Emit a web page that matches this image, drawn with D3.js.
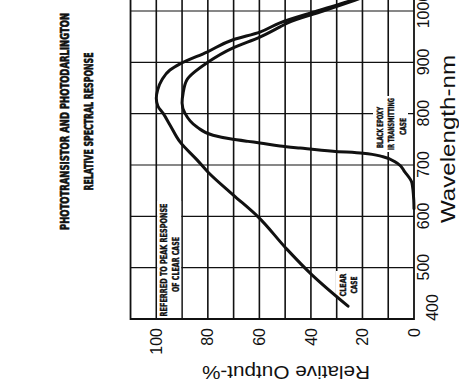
<!DOCTYPE html>
<html>
<head>
<meta charset="utf-8">
<script src="https://cdn.jsdelivr.net/npm/d3@7"></script>
<style>
  html, body { margin: 0; padding: 0; background: #fff; }
  svg { display: block; }
</style>
</head>
<body>
<div id="chart"></div>
<script>
// ---- data ----
const wavelengthTicks = [400, 500, 600, 700, 800, 900, 1000];
const outputTicks = [0, 20, 40, 60, 80, 100];
const wavelengthGrid = [500, 600, 700, 800, 900, 1000, 1100];
const outputGrid = [10, 20, 30, 40, 50, 60, 70, 80, 90, 100];

const clearWl  = [425, 486, 538, 599, 642, 686, 710, 745, 778, 801, 815, 830, 846, 866, 885, 897, 920, 944, 959, 977, 1000, 1021, 1040];
const clearOut = [25.6, 39.6, 49.7, 60.5, 70.2, 79.9, 84.2, 90.8, 94.7, 97.4, 99.4, 100, 99.5, 97.8, 94.7, 90.8, 80.3, 70.2, 59.8, 52.0, 37.6, 24, 13];

const blackWl  = [615, 632, 665, 686, 704, 716, 723, 727, 733, 737, 743, 746, 751, 758, 774, 801, 821, 840, 866, 899, 928, 949, 969, 977, 1000, 1021, 1040];
const blackOut = [0, 0.1, 0.8, 3.5, 6.6, 12.0, 19.8, 31.4, 44.2, 52.0, 59.8, 64.4, 71.4, 78.0, 84.2, 88.9, 90.0, 89.6, 88.1, 80.3, 70.2, 59.8, 52.0, 49.0, 35.3, 23, 12];

const titleLines = ["PHOTOTRANSISTOR AND PHOTODARLINGTON", "RELATIVE SPECTRAL RESPONSE"];
const xTitle = "Wavelength-nm";
const yTitle = "Relative Output-%";
const noteRef = ["REFERRED TO PEAK RESPONSE", "OF CLEAR CASE"];
const noteClear = ["CLEAR", "CASE"];
const noteBlack = ["BLACK EPOXY", "IR TRANSMITTING", "CASE"];

// ---- drawing ----
const W = 459, H = 381;
const svg = d3.select("#chart").append("svg")
  .attr("width", W).attr("height", H)
  .style("background", "#fff");

// chart drawn upright (381 wide x 459 tall), then turned 90 deg counter-clockwise
const g = svg.append("g").attr("transform", `translate(0,${H}) rotate(-90)`);

const x = d3.scaleLinear().domain([400, 1000]).range([62, 370]);
const y = d3.scaleLinear().domain([0, 100]).range([414, 156.3]);

const ink = "#111";
const narrow = "'Liberation Sans Narrow','DejaVu Sans Condensed','Arial Narrow',sans-serif";
const sans = "'Liberation Sans',Arial,Helvetica,sans-serif";

// grid: wavelength lines
g.append("g").selectAll("line").data(wavelengthGrid).join("line")
  .attr("x1", d => x(d)).attr("x2", d => x(d))
  .attr("y1", y(0)).attr("y2", y(110))
  .attr("stroke", ink).attr("stroke-width", 1.2);

// grid: output lines
g.append("g").selectAll("line").data(outputGrid).join("line")
  .attr("x1", x(400)).attr("x2", x(1100))
  .attr("y1", d => y(d)).attr("y2", d => y(d))
  .attr("stroke", ink).attr("stroke-width", 1.6);

// white label backgrounds (break the grid like the print)
const bg = g.append("g").attr("fill", "#fff");
bg.append("rect").attr("x", 63).attr("y", y(100) + 0.9).attr("width", 117).attr("height", y(90) - y(100) - 1.8);
bg.append("rect").attr("x", 83).attr("y", 335.8).attr("width", 27).attr("height", 22);
bg.append("rect").attr("x", 229).attr("y", 373).attr("width", 56).attr("height", 35);

// curves
const line = d3.line().x(d => x(d[0])).y(d => y(d[1])).curve(d3.curveMonotoneX);
g.append("path").datum(d3.zip(clearWl, clearOut))
  .attr("d", line).attr("fill", "none").attr("stroke", ink)
  .attr("stroke-width", 3).attr("stroke-linecap", "round");
g.append("path").datum(d3.zip(blackWl, blackOut))
  .attr("d", line).attr("fill", "none").attr("stroke", ink)
  .attr("stroke-width", 3).attr("stroke-linecap", "round");

// frame
g.append("path")
  .attr("d", `M${x(1100)},${y(110)} L${x(400)},${y(110)} L${x(400)},${y(0)} L${x(1100)},${y(0)}`)
  .attr("fill", "none").attr("stroke", ink).attr("stroke-width", 1.8);

// axes (labels only)
const axL = g.append("g").attr("transform", `translate(${x(400)},0)`)
  .call(d3.axisLeft(y).tickValues(outputTicks).tickSize(0).tickPadding(9).tickFormat(d3.format("d")));
const axB = g.append("g").attr("transform", `translate(0,${y(0)})`)
  .call(d3.axisBottom(x).tickValues(wavelengthTicks).tickSize(0).tickPadding(4).tickFormat(d3.format("d")));
[axL, axB].forEach(a => {
  a.select(".domain").remove();
  a.selectAll("text").attr("font-family", sans).attr("font-size", 16).attr("fill", ink);
});
axB.selectAll(".tick").filter(d => d === 400).select("text")
  .attr("transform", "translate(11,9)");

// condensed bold labels (title + notes), glyphs stretched tall like the print
const tg = g.append("g").attr("font-family", narrow).attr("font-weight", "bold").attr("fill", ink)
  .attr("stroke", ink).attr("text-anchor", "middle");
function block(lines, cx, baselines, lens, size, k, sw) {
  lines.forEach((t, i) => {
    tg.append("text")
      .attr("transform", `translate(${cx[i]},${baselines[i]}) scale(1,${k})`)
      .attr("font-size", size).attr("stroke-width", sw)
      .attr("textLength", lens[i]).attr("lengthAdjust", "spacingAndGlyphs").text(t);
  });
}
block(titleLines, [259.5, 259.5], [68.5, 92.5], [217, 138], 9.5, 1.35, 0.45);
block(noteRef, [121, 116.5], [167, 179], [113, 55], 7, 1.3, 0.3);
block(noteClear, [96, 96], [345.5, 356.5], [23, 17], 6.5, 1.3, 0.3);
block(noteBlack, [253.5, 257, 254.5], [382.5, 394, 405.5], [41, 52, 17], 6.5, 1.3, 0.3);

// axis titles
g.append("text").attr("x", 242).attr("y", 455)
  .attr("font-family", sans).attr("font-size", 21).attr("fill", ink)
  .attr("text-anchor", "middle")
  .attr("textLength", 168).attr("lengthAdjust", "spacingAndGlyphs").text(xTitle);
g.append("text").attr("transform", "translate(15.5,286) rotate(-90)")
  .attr("font-family", sans).attr("font-size", 19).attr("fill", ink)
  .attr("text-anchor", "middle")
  .attr("textLength", 168).attr("lengthAdjust", "spacingAndGlyphs").text(yTitle);
</script>
</body>
</html>
